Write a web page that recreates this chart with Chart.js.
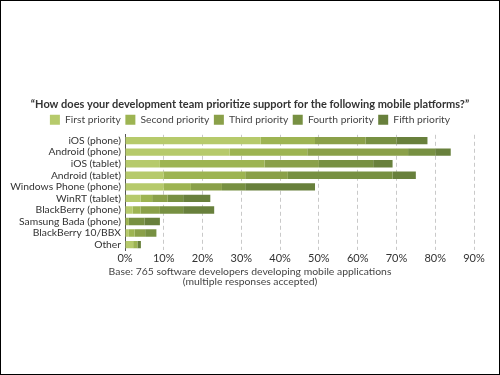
<!DOCTYPE html>
<html>
<head>
<meta charset="utf-8">
<script src="https://cdn.jsdelivr.net/npm/chart.js@4/dist/chart.umd.min.js"></script>
<style>
  html, body { margin: 0; padding: 0; background: #fff; }
  #wrap { width: 500px; height: 375px; }
</style>
</head>
<body>
<div id="wrap"><canvas id="grafico" width="500" height="375"></canvas></div>
<script>
// plataformas e valores (% de respostas) por prioridade
const plataformas = ["iOS (phone)", "Android (phone)", "iOS (tablet)", "Android (tablet)",
  "Windows Phone (phone)", "WinRT (tablet)", "BlackBerry (phone)", "Samsung Bada (phone)",
  "BlackBerry 10/BBX", "Other"];
const prioridades = ["First priority", "Second priority", "Third priority", "Fourth priority", "Fifth priority"];
const primeira = [35, 27, 9, 10, 10, 4, 2, 0, 1, 2.1];
const segunda  = [14, 20, 27, 21, 7, 3, 2, 1, 1.5, 1.1];
const terceira = [13, 26, 14, 11, 8, 4, 5, 0, 2.7, 0];
const quarta   = [8, 7, 14, 27, 6, 4, 6, 4, 2.9, 0];
const quinta   = [8, 4, 5, 6, 18, 7, 8, 4, 0, 0.9];
const cores = ["#b6ca6b", "#9db452", "#8aa049", "#779042", "#68803c"];
const titulo = "\u201CHow does your development team prioritize support for the following mobile platforms?\u201D";
const rodape = ["Base: 765 software developers developing mobile applications", "(multiple responses accepted)"];

const series = [primeira, segunda, terceira, quarta, quinta];

// moldura preta em volta da imagem
const moldura = {
  id: "moldura",
  afterDraw(chart) {
    const c = chart.ctx;
    c.save();
    c.strokeStyle = "#000";
    c.lineWidth = 1;
    c.strokeRect(0.5, 0.5, chart.width - 1, chart.height - 1);
    c.restore();
  }
};

const fonte = "Lato";
const ctx = document.getElementById("grafico").getContext("2d");
new Chart(ctx, {
  type: "bar",
  data: {
    labels: plataformas,
    datasets: series.map((dados, i) => ({
      label: prioridades[i],
      data: dados,
      backgroundColor: cores[i],
      borderWidth: 0,
      barPercentage: 0.8,
      categoryPercentage: 0.8
    }))
  },
  options: {
    indexAxis: "y",
    responsive: false,
    animation: false,
    layout: { padding: { top: 99, right: 0, bottom: 88, left: 0 } },
    plugins: {
      title: {
        display: true,
        text: titulo,
        color: "#333",
        font: { family: fonte, size: 11, weight: "bold", lineHeight: 1.0 },
        padding: { top: 0, bottom: 0 }
      },
      legend: {
        display: true,
        labels: {
          boxWidth: 10,
          boxHeight: 10,
          padding: 4.5,
          color: "#444",
          font: { family: fonte, size: 10.3 }
        }
      },
      subtitle: {
        display: true,
        position: "bottom",
        text: rodape,
        color: "#444",
        font: { family: fonte, size: 10.4, lineHeight: 0.98 },
        padding: { top: 1, bottom: 0 }
      },
      tooltip: { enabled: false }
    },
    scales: {
      x: {
        stacked: true,
        min: 0,
        max: 90,
        ticks: {
          stepSize: 10,
          color: "#333",
          padding: 1,
          font: { family: fonte, size: 11 },
          callback: (v) => v + "%"
        },
        grid: {
          drawTicks: false,
          color: (c) => (c.index === 0 ? "rgba(0,0,0,0)" : "#c9c9c9")
        },
        border: { display: false, dash: [4, 3] }
      },
      y: {
        stacked: true,
        afterFit: (scale) => { scale.width = 125; },
        ticks: {
          autoSkip: false,
          color: "#333",
          padding: 4,
          font: { family: fonte, size: 10.3 }
        },
        grid: { display: false, drawTicks: false },
        border: { display: true, color: "#555", width: 1 }
      },
      // eixo vazio à direita só para reservar a margem
      margem: {
        type: "category",
        position: "right",
        afterFit: (scale) => { scale.width = 26; },
        ticks: { display: false },
        grid: { display: false, drawTicks: false },
        border: { display: false }
      }
    }
  },
  plugins: [moldura]
});
</script>
</body>
</html>
